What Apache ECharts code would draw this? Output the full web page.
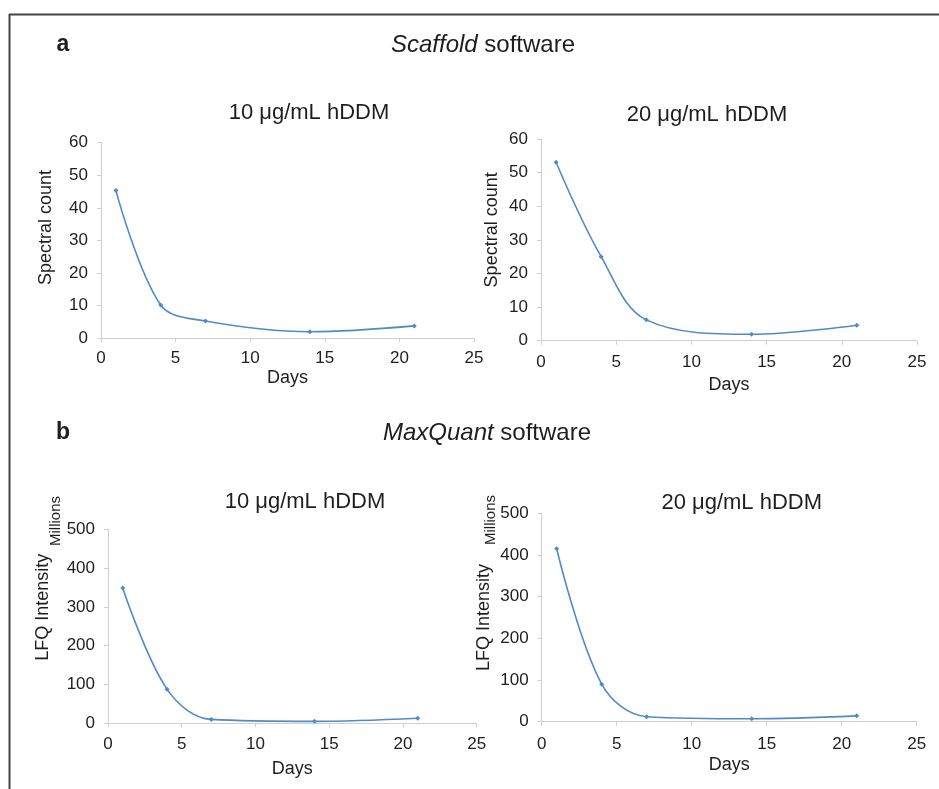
<!DOCTYPE html>
<html>
<head>
<meta charset="utf-8">
<script src="https://cdn.jsdelivr.net/npm/echarts@6/dist/echarts.min.js"></script>
<style>
  html, body { margin: 0; padding: 0; background: #fff; }
  #chart { width: 939px; height: 789px; }
</style>
</head>
<body>
<div id="chart"></div>
<script>
// time points (days)
const days = [1, 4, 7, 14, 21];
// a: Scaffold spectral counts
const scaffold10 = [45.3, 10.2, 5.3, 2.0, 3.8];
const scaffold20 = [53.1, 25.0, 6.2, 1.9, 4.6];
// b: MaxQuant LFQ intensity (millions)
const maxquant10 = [349, 88, 10, 5, 13];
const maxquant20 = [415, 90, 12, 7, 14];

const xTicks = { min: 0, max: 25, interval: 5 };
const FONT = 'Liberation Sans, Arial, sans-serif';
const TXT = '#1e1e1e';
const AXIS = '#cfcfcf';
const BLUE = '#4f8bcb';

const zip = vals => days.map((d, i) => [d, vals[i]]);

// one grid per small chart
const grids = [
  { left: 101, top: 142.7, width: 373, height: 195.6 },
  { left: 541, top: 139, width: 376, height: 201.7 },
  { left: 108, top: 529.3, width: 368.7, height: 194 },
  { left: 541.7, top: 513.3, width: 375, height: 208.4 },
];

function xAxis(gi, nameGap, margin) {
  return {
    type: 'value', gridIndex: gi, ...xTicks,
    name: 'Days', nameLocation: 'middle', nameGap,
    nameTextStyle: { color: TXT, fontSize: 18, fontFamily: FONT },
    axisLine: { lineStyle: { color: AXIS, width: 1 } },
    axisTick: { show: true, length: 4, lineStyle: { color: AXIS } },
    axisLabel: { color: TXT, fontSize: 17, fontFamily: FONT, margin },
    splitLine: { show: false },
  };
}
function yAxis(gi, max, interval, name, nameGap, shift) {
  return {
    type: 'value', gridIndex: gi, min: 0, max, interval,
    name, nameLocation: 'middle', nameGap, nameRotate: 90,
    nameTextStyle: { color: TXT, fontSize: 18, fontFamily: FONT, padding: [0, 0, 0, shift] },
    axisLine: { show: true, lineStyle: { color: AXIS, width: 1 } },
    axisTick: { show: true, length: 4, lineStyle: { color: AXIS } },
    axisLabel: { color: TXT, fontSize: 17, fontFamily: FONT, margin: 13 },
    splitLine: { show: false },
  };
}
function line(gi, vals) {
  return {
    type: 'line', xAxisIndex: gi, yAxisIndex: gi, data: zip(vals),
    smooth: 0.35, symbol: 'diamond', symbolSize: 5,
    lineStyle: { color: BLUE, width: 1.6 }, itemStyle: { color: BLUE },
  };
}

function label(x, y, text, size, extra) {
  return { type: 'text', x, y, style: Object.assign({
    text, fill: TXT, font: `${size}px ${FONT}`, align: 'center', verticalAlign: 'middle' }, extra || {}) };
}
function heading(x, y, italic) {
  return { type: 'text', x, y, style: {
    text: `{i|${italic}} software`, fill: TXT, font: `24px ${FONT}`, align: 'center', verticalAlign: 'middle',
    rich: { i: { fontStyle: 'italic', fontSize: 24, fontFamily: FONT, fill: TXT } } } };
}

const chart = echarts.init(document.getElementById('chart'));
chart.setOption({
  animation: false,
  grid: grids,
  xAxis: [xAxis(0, 31, 12), xAxis(1, 35, 13), xAxis(2, 37, 13), xAxis(3, 34, 14)],
  yAxis: [
    yAxis(0, 60, 10, 'Spectral count', 46, 26),
    yAxis(1, 60, 10, 'Spectral count', 40, 20),
    yAxis(2, 500, 100, 'LFQ Intensity', 56, 38),
    yAxis(3, 500, 100, 'LFQ Intensity', 49, 0),
  ],
  series: [line(0, scaffold10), line(1, scaffold20), line(2, maxquant10), line(3, maxquant20)],
  graphic: [
    // frame
    { type: 'line', shape: { x1: 9, y1: 14.5, x2: 939, y2: 14.5 }, style: { stroke: '#444', lineWidth: 2 } },
    { type: 'line', shape: { x1: 9.5, y1: 14, x2: 9.5, y2: 789 }, style: { stroke: '#444', lineWidth: 2 } },
    // panel letters
    label(63, 45, 'a', 23, { font: `bold 23px ${FONT}` }),
    label(63, 433, 'b', 23, { font: `bold 23px ${FONT}` }),
    // panel headings
    heading(483, 45, 'Scaffold'),
    heading(487, 433, 'MaxQuant'),
    // chart titles
    label(309, 113, '10 μg/mL hDDM', 22),
    label(707, 115, '20 μg/mL hDDM', 22),
    label(305, 501.7, '10 μg/mL hDDM', 22),
    label(741.7, 503.3, '20 μg/mL hDDM', 22),
    // unit labels
    Object.assign(label(56, 521, 'Millions', 15), { rotation: Math.PI / 2 }),
    Object.assign(label(491, 520, 'Millions', 15), { rotation: Math.PI / 2 }),
  ],
});
</script>
</body>
</html>
